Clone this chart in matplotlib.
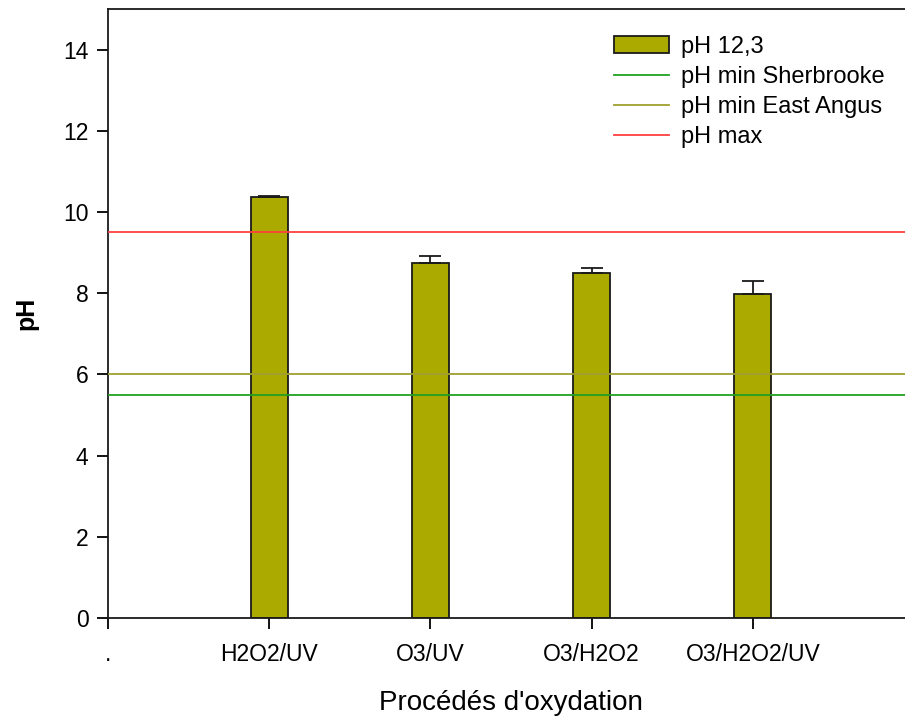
import matplotlib
matplotlib.use("Agg")
import matplotlib.pyplot as plt
from matplotlib.patches import Patch
from matplotlib.lines import Line2D

plt.rcParams['font.family'] = ['Liberation Sans', 'DejaVu Sans']

categories = [".", "H2O2/UV", "O3/UV", "O3/H2O2", "O3/H2O2/UV"]
ph_values = [10.36, 8.74, 8.49, 7.98]
ph_errors = [0.04, 0.18, 0.14, 0.32]
ph_max = 9.5
ph_min_sherbrooke = 5.5
ph_min_east_angus = 6.0

bar_color = "#aaaa00"
fig = plt.figure(figsize=(9.05, 7.17), dpi=100)
ax = fig.add_axes([108/905, 1 - 618/717, 1 - 108/905 + 0.01, (618 - 9)/717])

xpos = list(range(1, len(ph_values) + 1))
ax.bar(xpos, ph_values, width=0.23, color=bar_color, edgecolor="#1a1a1a", linewidth=1.3, zorder=2)
ax.errorbar(xpos, ph_values, yerr=[[0]*len(ph_errors), ph_errors], fmt="none",
            ecolor="#1a1a1a", elinewidth=1.3, capsize=8, capthick=1.3, zorder=3)

ax.axhline(ph_min_sherbrooke, color="#22a022", linewidth=1.3, zorder=4)
ax.axhline(ph_min_east_angus, color="#a0a030", linewidth=1.3, zorder=4)
ax.axhline(ph_max, color="#ff4040", linewidth=1.3, zorder=4)

ax.set_xlim(0, 5.0)
ax.set_ylim(0, 15)
ax.set_xticks(range(len(categories)))
ax.set_xticklabels(categories, fontsize=16.5)
ax.set_yticks(range(0, 15, 2))
ax.tick_params(axis='y', labelsize=16.5, length=8, width=1.3, direction='out', pad=6)
ax.tick_params(axis='x', length=8, width=1.3, direction='out', pad=10)
for s in ax.spines.values():
    s.set_linewidth(1.3)
    s.set_color("#1a1a1a")
ax.spines['right'].set_visible(False)

ax.set_ylabel("pH", fontsize=18, fontweight='bold', labelpad=18)
ax.set_xlabel("Procédés d'oxydation", fontsize=20, labelpad=17)

handles = [
    Patch(facecolor=bar_color, edgecolor="#1a1a1a", linewidth=1.3),
    Line2D([], [], color="#22a022", linewidth=1.3),
    Line2D([], [], color="#a0a030", linewidth=1.3),
    Line2D([], [], color="#ff4040", linewidth=1.3),
]
labels = ["pH 12,3", "pH min Sherbrooke", "pH min East Angus", "pH max"]
ax.legend(handles, labels, loc='upper left', bbox_to_anchor=((613 - 108)/805, 1 - 27/609),
          frameon=False, fontsize=17, handlelength=2.35, handleheight=0.7,
          labelspacing=0.34, handletextpad=0.5, borderaxespad=0, borderpad=0)

fig.savefig("out.png", dpi=100)
